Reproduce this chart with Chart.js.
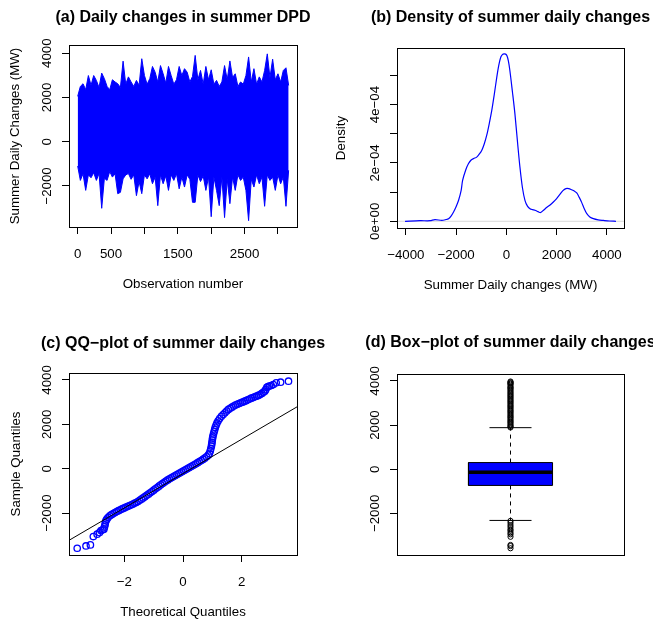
<!DOCTYPE html>
<html>
<head>
<meta charset="utf-8">
<title>Summer DPD daily changes</title>
<script src="https://cdn.jsdelivr.net/npm/chart.js@4.4.1/dist/chart.umd.min.js"></script>
<style>
  html, body { margin: 0; padding: 0; background: #fff; }
  #wrap { position: relative; width: 653px; height: 623px; overflow: hidden; }
  #wrap canvas { position: absolute; left: 0; top: 0; }
</style>
</head>
<body>
<div id="wrap">
  <canvas id="tsChart" width="653" height="623"></canvas>
  <canvas id="densChart" width="653" height="623"></canvas>
  <canvas id="qqChart" width="653" height="623"></canvas>
  <canvas id="boxChart" width="653" height="623"></canvas>
</div>
<script>
// (a) daily changes: upper / lower envelope of the series
const tsObs = [0,40,80,120,160,200,240,280,320,360,400,440,480,520,560,600,640,680,720,760,
  800,840,880,920,960,1000,1040,1080,1120,1160,1200,1240,1280,1320,1360,1400,1440,1480,1520,1560,
  1600,1640,1680,1720,1760,1800,1840,1880,1920,1960,2000,2040,2080,2120,2160,2200,2240,2280,2320,2360,
  2400,2440,2480,2520,2560,2600,2640,2680,2720,2760,2800,2840,2880,2920,2960,3000,3040,3080,3120,3160];
const tsHigh = [2050,2500,2620,2350,2990,2550,2990,2770,2450,3100,
  2850,2500,2350,2800,2700,2620,2450,3640,2600,2930,
  2700,2500,2770,2550,3750,2990,2600,2850,3400,3140,
  2700,3440,3070,2650,3400,2990,2600,2800,3400,2990,
  3300,3140,2700,2950,3900,2800,3220,2600,3400,2800,
  3250,2600,2770,2500,2700,3440,2800,3650,2900,3070,
  2500,2700,2600,2990,3830,2700,3300,2600,2930,2700,
  3220,3970,2900,3730,2800,3070,2700,3220,3340,2540];
const tsLow = [-1100,-1750,-1450,-2200,-1500,-1630,-1400,-1750,-1440,-3010,
  -1650,-1750,-1350,-1600,-1450,-2350,-2290,-1680,-1500,-1440,
  -1700,-1500,-2440,-1800,-2350,-1500,-1680,-1450,-1900,-1600,
  -2890,-1500,-1900,-1550,-2200,-1500,-1750,-1450,-2130,-1600,
  -2050,-1500,-1700,-2740,-2740,-1500,-1800,-1550,-2200,-1600,
  -3390,-1600,-2200,-2890,-1600,-3430,-1700,-2800,-1600,-2200,
  -1500,-1750,-1600,-2200,-3570,-1700,-2050,-1500,-1900,-1600,
  -2920,-1500,-1750,-1600,-2200,-1500,-1900,-1600,-2920,-1290];
const tsXTicks = [0, 500, 1000, 1500, 2000, 2500, 3000];
const tsXLabels = ['0', '500', '', '1500', '', '2500', ''];

// (b) kernel density
const densX = [-4030,-3430,-3030,-2840,-2570,-2400,-2300,-2200,-2100,-2000,-1900,-1800,-1740,-1620,-1510,
  -1400,-1300,-1180,-1080,-980,-880,-780,-680,-580,-480,-380,-300,-220,-150,-90,-30,20,80,140,240,340,
  440,540,640,740,840,940,1040,1140,1260,1360,1480,1600,1740,1870,2000,2130,2250,2370,2480,2600,2700,
  2800,2900,3000,3100,3200,3320,3460,3650,3860,4100,4360];
const densY = [0.00,0.02,0.02,0.06,0.03,0.06,0.09,0.18,0.32,0.50,0.72,1.05,1.40,1.75,1.97,
  2.10,2.15,2.20,2.30,2.43,2.65,2.95,3.35,3.80,4.35,4.94,5.35,5.63,5.72,5.74,5.73,5.68,5.50,5.17,4.45,3.69,
  2.75,1.86,1.15,0.72,0.52,0.43,0.40,0.38,0.33,0.30,0.38,0.47,0.56,0.66,0.78,0.92,1.05,1.12,1.12,1.08,1.04,
  0.97,0.82,0.64,0.43,0.26,0.15,0.09,0.05,0.03,0.01,0.00].map(v => v * 1e-4);
const densXTicks = [-4000, -2000, 0, 2000, 4000];
const densXLabels = ['\u22124000', '\u22122000', '0', '2000', '4000'];
const densYTicks = [0, 1e-4, 2e-4, 3e-4, 4e-4, 5e-4];
const densYLabels = ['0e+00', '', '2e\u221204', '', '4e\u221204', ''];

// (c) normal QQ plot
const qqTheo = [-3.61,-3.31,-3.16,-3.06,-2.93,-2.85,-2.80,-2.74,-2.70,-2.68,-2.66,-2.65,-2.63,-2.60,
  -2.56,-2.50,-2.44,-2.38,-2.32,-2.26,-2.20,-2.14,-2.08,-2.02,
  -1.96,-1.90,-1.84,-1.78,-1.72,-1.66,-1.60,-1.54,-1.48,-1.42,
  -1.36,-1.30,-1.24,-1.18,-1.12,-1.06,-1.00,-0.94,-0.88,-0.82,
  -0.76,-0.70,-0.64,-0.58,-0.52,-0.46,-0.40,-0.34,-0.28,-0.22,
  -0.16,-0.10,-0.04,0.02,0.08,0.14,0.20,0.26,0.32,0.38,
  0.44,0.50,0.56,0.62,0.68,0.74,0.80,0.86,
  0.90,0.93,0.95,0.97,0.98,0.99,1.00,1.01,1.02,1.04,1.06,1.08,1.10,1.13,1.16,1.20,1.25,1.31,
  1.37,1.43,1.49,1.55,1.61,1.67,1.73,1.79,1.85,1.91,1.97,2.03,2.09,2.15,2.21,2.27,2.33,2.39,2.45,2.51,
  2.57,2.63,2.69,2.74,2.79,
  2.82,2.86,2.90,2.95,3.01,3.08,3.18,3.33,3.60];
const qqSample = [-3580,-3477,-3431,-3055,-2948,-2876,-2786,-2750,-2722,-2620,-2528,-2430,-2340,-2270,
  -2200,-2120,-2070,-2020,-1975,-1930,-1890,-1850,-1810,-1775,
  -1740,-1705,-1670,-1635,-1600,-1560,-1520,-1475,-1425,-1370,
  -1315,-1260,-1200,-1145,-1085,-1025,-965,-905,-845,-785,
  -725,-665,-610,-555,-505,-455,-410,-365,-320,-275,
  -230,-185,-140,-95,-50,-5,40,85,130,175,
  220,270,320,370,420,475,535,610,
  690,800,910,1020,1110,1190,1290,1380,1460,1560,1660,1760,1860,1960,2060,2160,2260,2360,
  2440,2520,2600,2670,2720,2770,2820,2865,2900,2935,2965,2995,3030,3065,3100,3140,3175,3205,3235,3265,
  3300,3340,3390,3440,3490,
  3560,3660,3700,3720,3747,3790,3869,3896,3941];
const qqLineX = [-3.89, 3.89];
const qqLineY = [-3225, 2785];
const qqXTicks = [-2, 0, 2];
const qqXLabels = ['\u22122', '0', '2'];

// (d) box plot: lower whisker, Q1, median, Q3, upper whisker
const boxStats = [-2320, -735, -140, 300, 1880];
const boxOutHigh = [1890,1930,1980,2040,2100,2150,2210,2270,2330,2380,2440,2500,2560,2620,2670,2730,
  2790,2850,2900,2960,3020,3080,3130,3190,3250,3310,3360,3420,3480,3540,3600,3660,3700,3750,3820,
  3870,3900,3940,3970];
const boxOutLow = [-2340,-2430,-2530,-2620,-2720,-2790,-2880,-2950,-3060,-3430,-3480,-3580];

// shared y axis ticks for (a), (c), (d)
const valTicks = [-2000, 0, 2000, 4000];
const valLabels = ['\u22122000', '0', '2000', '4000'];

const FONT = '"Liberation Sans", Arial, Helvetica, sans-serif';
const BLUE = '#0000ff';

function toPoints(xs, ys) {
    return xs.map((x, i) => ({ x: x, y: ys[i] }));
}

// R-style frame: box, rotated y labels, titles
function rFrame(cfg) {
    return {
        id: 'rFrame',
        afterDraw(chart) {
            const ctx = chart.ctx;
            const a = chart.chartArea;
            const cx = (a.left + a.right) / 2;
            ctx.save();
            ctx.strokeStyle = '#000';
            ctx.lineWidth = 1;
            ctx.strokeRect(Math.round(a.left) + 0.5, Math.round(a.top) + 0.5,
                Math.round(a.right - a.left), Math.round(a.bottom - a.top));
            ctx.fillStyle = '#000';
            ctx.textAlign = 'center';
            ctx.textBaseline = 'alphabetic';

            ctx.font = 'bold 16px ' + FONT;
            ctx.fillText(cfg.title, cx, cfg.titleY);

            ctx.font = '13.3px ' + FONT;
            if (cfg.xTitle) ctx.fillText(cfg.xTitle, cx, a.bottom + 61);
            if (cfg.xTicks) {
                const xs = chart.scales.x;
                cfg.xTicks.forEach((v, i) => {
                    if (cfg.xLabels[i]) ctx.fillText(cfg.xLabels[i], xs.getPixelForValue(v), a.bottom + 30.5);
                });
            }
            const ys = chart.scales.y;
            cfg.yTicks.forEach((v, i) => {
                if (!cfg.yLabels[i]) return;
                ctx.save();
                ctx.translate(a.left - 18.5, ys.getPixelForValue(v));
                ctx.rotate(-Math.PI / 2);
                ctx.fillText(cfg.yLabels[i], 0, 0);
                ctx.restore();
            });
            if (cfg.yTitle) {
                ctx.save();
                ctx.translate(cfg.yTitleX, (a.top + a.bottom) / 2);
                ctx.rotate(-Math.PI / 2);
                ctx.fillText(cfg.yTitle, 0, 0);
                ctx.restore();
            }
            ctx.restore();
        }
    };
}

function tickAxis(min, max, ticks, horizontal) {
    return {
        type: 'linear',
        min: min,
        max: max,
        offset: false,
        afterBuildTicks: s => { s.ticks = ticks.map(v => ({ value: v })); },
        afterFit: s => { if (horizontal) s.height = 40; else s.width = 40; },
        ticks: { display: false },
        grid: { offset: false, drawOnChartArea: false, drawTicks: true, tickLength: 7, color: '#000', lineWidth: 1 },
        border: { display: false }
    };
}

function baseOptions(padding, scales) {
    return {
        responsive: false,
        animation: false,
        devicePixelRatio: 1,
        layout: { padding: padding },
        plugins: { legend: { display: false }, tooltip: { enabled: false } },
        scales: scales
    };
}

function createSeriesChart() {
    const ctx = document.getElementById('tsChart').getContext('2d');
    new Chart(ctx, {
        type: 'line',
        data: {
            datasets: [{
                data: toPoints(tsObs, tsHigh),
                borderColor: BLUE,
                backgroundColor: BLUE,
                borderWidth: 1,
                pointRadius: 0,
                tension: 0,
                fill: '+1'
            }, {
                data: toPoints(tsObs, tsLow),
                borderColor: BLUE,
                borderWidth: 1,
                pointRadius: 0,
                tension: 0,
                fill: false
            }]
        },
        options: baseOptions({ left: 29, top: 45, right: 356, bottom: 356 }, {
            x: tickAxis(-130, 3285, tsXTicks, true),
            y: tickAxis(-3855, 4370, valTicks, false)
        }),
        plugins: [rFrame({
            title: '(a) Daily changes in summer DPD', titleY: 21.5,
            xTitle: 'Observation number', xTicks: tsXTicks, xLabels: tsXLabels,
            yTitle: 'Summer Daily Changes (MW)', yTitleX: 18.5,
            yTicks: valTicks, yLabels: valLabels
        })]
    });
}

function createDensityChart() {
    const ctx = document.getElementById('densChart').getContext('2d');
    new Chart(ctx, {
        type: 'line',
        data: {
            datasets: [{
                data: toPoints(densX, densY),
                borderColor: BLUE,
                borderWidth: 1.2,
                pointRadius: 0,
                tension: 0.3,
                fill: false
            }, {
                // zero line
                data: toPoints([-4350, 4680], [0, 0]),
                borderColor: '#d9d9d9',
                borderWidth: 1,
                pointRadius: 0,
                fill: false
            }]
        },
        options: baseOptions({ left: 357, top: 48, right: 29, bottom: 355 }, {
            x: tickAxis(-4350, 4680, densXTicks, true),
            y: tickAxis(-0.23e-4, 5.94e-4, densYTicks, false)
        }),
        plugins: [rFrame({
            title: '(b) Density of summer daily changes', titleY: 21.5,
            xTitle: 'Summer Daily changes (MW)', xTicks: densXTicks, xLabels: densXLabels,
            yTitle: 'Density', yTitleX: 345,
            yTicks: densYTicks, yLabels: densYLabels
        })]
    });
}

function createQQChart() {
    const ctx = document.getElementById('qqChart').getContext('2d');
    new Chart(ctx, {
        type: 'scatter',
        data: {
            datasets: [{
                type: 'line',
                data: toPoints(qqLineX, qqLineY),
                borderColor: '#000',
                borderWidth: 1,
                pointRadius: 0,
                fill: false,
                order: 1
            }, {
                data: toPoints(qqTheo, qqSample),
                pointStyle: 'circle',
                pointRadius: 3.2,
                borderWidth: 1.3,
                borderColor: BLUE,
                backgroundColor: 'rgba(0,0,0,0)',
                order: 2
            }]
        },
        options: baseOptions({ left: 29, top: 373, right: 356, bottom: 28 }, {
            x: tickAxis(-3.89, 3.89, qqXTicks, true),
            y: tickAxis(-3885, 4310, valTicks, false)
        }),
        plugins: [rFrame({
            title: '(c) QQ\u2212plot of summer daily changes', titleY: 347.5,
            xTitle: 'Theoretical Quantiles', xTicks: qqXTicks, xLabels: qqXLabels,
            yTitle: 'Sample Quantiles', yTitleX: 19.5,
            yTicks: valTicks, yLabels: valLabels
        })]
    });
}

function createBoxChart() {
    const ctx = document.getElementById('boxChart').getContext('2d');
    const [lo, q1, med, q3, hi] = boxStats;
    const half = 0.2, cap = 0.1;
    const seg = (pts, extra) => Object.assign({
        type: 'line', data: pts, borderColor: '#000', borderWidth: 1, pointRadius: 0, fill: false
    }, extra || {});
    const outliers = boxOutLow.concat(boxOutHigh);
    new Chart(ctx, {
        type: 'scatter',
        data: {
            datasets: [
                seg([{ x: 1, y: q3 }, { x: 1, y: hi }], { borderDash: [4, 4], order: 5 }),
                seg([{ x: 1, y: q1 }, { x: 1, y: lo }], { borderDash: [4, 4], order: 5 }),
                seg([{ x: 1 - cap, y: hi }, { x: 1 + cap, y: hi }], { order: 5 }),
                seg([{ x: 1 - cap, y: lo }, { x: 1 + cap, y: lo }], { order: 5 }),
                seg([{ x: 1 - half, y: q1 }, { x: 1 + half, y: q1 }, { x: 1 + half, y: q3 },
                     { x: 1 - half, y: q3 }, { x: 1 - half, y: q1 }],
                    { fill: 'shape', backgroundColor: BLUE, order: 3 }),
                seg([{ x: 1 - half, y: med }, { x: 1 + half, y: med }], { borderWidth: 3.5, order: 2 }),
                {
                    data: outliers.map(v => ({ x: 1, y: v })),
                    pointStyle: 'circle',
                    pointRadius: 2.6,
                    borderWidth: 1,
                    borderColor: '#000',
                    backgroundColor: 'rgba(0,0,0,0)',
                    order: 1
                }
            ]
        },
        options: baseOptions({ left: 357, top: 374, right: 29, bottom: 68 }, {
            x: { type: 'linear', min: 0.46, max: 1.54, display: false },
            y: tickAxis(-3885, 4310, valTicks, false)
        }),
        plugins: [rFrame({
            title: '(d) Box\u2212plot of summer daily changes', titleY: 346.5,
            yTicks: valTicks, yLabels: valLabels
        })]
    });
}

createSeriesChart();
createDensityChart();
createQQChart();
createBoxChart();
</script>
</body>
</html>
